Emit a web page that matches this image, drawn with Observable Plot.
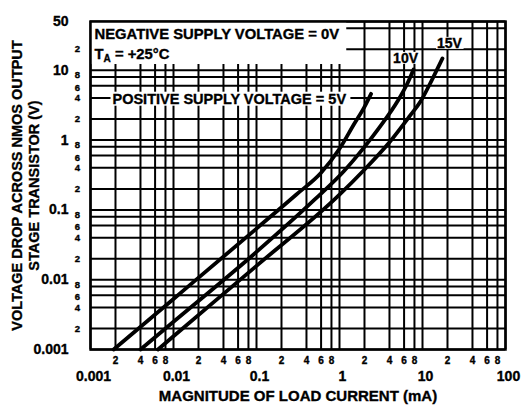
<!DOCTYPE html>
<html><head><meta charset="utf-8">
<script src="https://cdn.jsdelivr.net/npm/d3@7"></script>
<script src="https://cdn.jsdelivr.net/npm/@observablehq/plot@0.6"></script>
<style>html,body{margin:0;padding:0;background:#fff} svg{display:block} svg text{stroke:#000;stroke-width:0.35px}</style>
</head><body><div id="chart"></div>
<script>
// ---- axis ticks / grid ----
const xDecades = [0.001, 0.01, 0.1, 1, 10, 100];
const xMinor = [0.002, 0.004, 0.006, 0.008, 0.02, 0.04, 0.06, 0.08, 0.2, 0.4, 0.6, 0.8, 2, 4, 6, 8, 20, 40, 60, 80];
const yDecades = [0.001, 0.01, 0.1, 1, 10, 50];
const yMinor = [0.002, 0.004, 0.006, 0.008, 0.02, 0.04, 0.06, 0.08, 0.2, 0.4, 0.6, 0.8, 2, 4, 6, 8, 20, 40];
const yMinorLabeled = [0.002, 0.004, 0.006, 0.008, 0.02, 0.04, 0.06, 0.08, 0.2, 0.4, 0.6, 0.8, 2, 4, 6, 8, 20];

// ---- curves: load current (mA) vs voltage drop (V) ----
const curve5_I = [0.0019, 0.01, 0.1, 0.3, 0.6, 1.0, 1.5, 2.0, 2.4];
const curve5_V = [0.001, 0.0053, 0.054, 0.165, 0.34, 0.75, 1.7, 3.0, 4.6];
const curve10_I = [0.004, 0.01, 0.1, 0.5, 1.12, 2.0, 3.0, 5.0, 6.5, 7.8];
const curve10_V = [0.001, 0.0025, 0.025, 0.14, 0.355, 0.8, 1.5, 3.6, 6.3, 10.3];
const curve15_I = [0.0065, 0.01, 0.1, 1.0, 1.9, 4.0, 7.0, 9.5, 13, 17.4];
const curve15_V = [0.001, 0.00155, 0.0158, 0.165, 0.355, 0.93, 2.2, 3.6, 7.3, 14.8];

// ---- texts ----
const noteNeg = "NEGATIVE SUPPLY VOLTAGE = 0V";
const noteTa = "TA = +25°C";
const notePos = "POSITIVE SUPPLY VOLTAGE = 5V";
const notePosLevel = [4];
const label10 = "10V";
const label15 = "15V";
const xTitle = "MAGNITUDE OF LOAD CURRENT (mA)";
const yTitle1 = "VOLTAGE DROP ACROSS NMOS OUTPUT";
const yTitle2 = "STAGE TRANSISTOR (V)";

const toRows = (I, V) => I.map((x, i) => ({I: x, V: V[i]}));
const c5 = toRows(curve5_I, curve5_V);
const c10 = toRows(curve10_I, curve10_V);
const c15 = toRows(curve15_I, curve15_V);
const digit = d => String(+(+d).toPrecision(1)).replace(/[0.]/g, "");
const yMinorWith = k => yMinorLabeled.filter(d => digit(d) === k);
const yMinorText = (k, dy) => Plot.text(yMinorWith(k), {y: d => d, text: digit, frameAnchor: "left", dx: -13, dy, textAnchor: "middle", fontSize: 9.5});

const chart = Plot.plot({
  width: 527, height: 405,
  marginLeft: 90, marginRight: 22, marginTop: 21, marginBottom: 56,
  x: {type: "log", domain: [0.001, 100], axis: null},
  y: {type: "log", domain: [0.001, 50], axis: null},
  style: {fontFamily: "'Liberation Sans', Arial, sans-serif", fontWeight: "bold", color: "black", background: "white", overflow: "visible"},
  marks: [
    Plot.ruleX([...xDecades, ...xMinor], {stroke: "black", strokeWidth: 2}),
    Plot.ruleY([...yDecades, ...yMinor], {stroke: "black", strokeWidth: 2}),
    Plot.frame({stroke: "black", strokeWidth: 2.5}),
    Plot.line(c5, {x: "I", y: "V", stroke: "black", strokeWidth: 3.8, curve: "monotone-x"}),
    Plot.line(c10, {x: "I", y: "V", stroke: "black", strokeWidth: 3.8, curve: "monotone-x"}),
    Plot.line(c15, {x: "I", y: "V", stroke: "black", strokeWidth: 3.8, curve: "monotone-x"}),
    // tick labels
    Plot.text(yDecades, {y: d => d, text: d => String(d), frameAnchor: "left", dx: -22, textAnchor: "end", fontSize: 14}),
    yMinorText("2", 0),
    yMinorText("4", 0),
    yMinorText("6", 2),
    yMinorText("8", -2),
    Plot.text(xMinor.filter(d => d < 100), {x: d => d, text: digit, frameAnchor: "bottom", dy: 7, lineAnchor: "top", fontSize: 10}),
    Plot.text(xDecades, {x: d => d, text: d => String(d), frameAnchor: "bottom", dx: 3, dy: 22, lineAnchor: "top", fontSize: 14}),
    // titles
    Plot.text([xTitle], {text: d => d, frameAnchor: "bottom", dy: 47, fontSize: 15, lineAnchor: "middle"}),
    Plot.text([yTitle1], {text: d => d, frameAnchor: "left", dx: -73, rotate: -90, textAnchor: "middle", fontSize: 14.5}),
    Plot.text([yTitle2], {text: d => d, frameAnchor: "left", dx: -56, rotate: -90, textAnchor: "middle", fontSize: 14.5}),
    // annotations
    Plot.text([noteNeg], {text: d => d, frameAnchor: "top-left", dx: 4, dy: 7, textAnchor: "start", lineAnchor: "top", fontSize: 14.8}),
    Plot.text([noteTa], {text: d => d, frameAnchor: "top-left", dx: 4, dy: 27, textAnchor: "start", lineAnchor: "top", fontSize: 14.8}),
    Plot.text(notePosLevel, {y: d => d, text: () => notePos, frameAnchor: "left", dx: 22, dy: 1, textAnchor: "start", fontSize: 14.5}),
    Plot.text([c10[c10.length - 1]], {x: "I", y: "V", text: () => label10, dx: -8, dy: -11, fontSize: 14}),
    Plot.text([c15[c15.length - 1]], {x: "I", y: "V", text: () => label15, dx: 7, dy: -15, fontSize: 14})
  ]
});

document.getElementById("chart").appendChild(chart);

const allTexts = Array.from(chart.querySelectorAll("text"));
const findText = s => allTexts.find(t => t.textContent === s);

// white backgrounds behind notes
(function () {
  const ns = "http://www.w3.org/2000/svg";
  const root = chart.getBoundingClientRect();
  const box = el => {
    const r = el.getBoundingClientRect();
    return {x0: r.left - root.left, y0: r.top - root.top, x1: r.right - root.left, y1: r.bottom - root.top};
  };
  const rect = (x0, y0, x1, y1, before) => {
    const r = document.createElementNS(ns, "rect");
    r.setAttribute("x", x0); r.setAttribute("y", y0);
    r.setAttribute("width", Math.max(0, x1 - x0)); r.setAttribute("height", Math.max(0, y1 - y0));
    r.setAttribute("fill", "white");
    before.parentNode.insertBefore(r, before);
  };
  const sx = chart.scale("x"), sy = chart.scale("y");
  const fl = sx.apply(0.001), ft = sy.apply(50);
  const frameEl = chart.querySelector('[aria-label="frame"]');
  const tNeg = findText(noteNeg), tTa = findText(noteTa), tPos = findText(notePos);
  const t10 = findText(label10), t15 = findText(label15);
  const gridAnchor = frameEl || tNeg.parentNode;
  if (tNeg && tTa) {
    const n1 = box(tNeg), n2 = box(tTa);
    rect(fl, ft, Math.max(n1.x1, n2.x1) + 7, n2.y1 + 2, gridAnchor);
  }
  if (tPos) { const p = box(tPos); rect(p.x0 - 2, p.y0 + 1, p.x1 + 4, p.y1 - 1, gridAnchor); }
  for (const t of [t10, t15]) {
    if (!t) continue;
    const b = box(t);
    const g = t.parentNode;
    rect(b.x0 - 1, b.y0 + 2, b.x1 + 1, b.y1 - 2, g);
  }
  // subscript A in T_A
  if (tTa) {
    tTa.textContent = "";
    const a = document.createElementNS(ns, "tspan"); a.textContent = "T"; tTa.appendChild(a);
    const b = document.createElementNS(ns, "tspan"); b.textContent = "A"; b.setAttribute("font-size", "10"); b.setAttribute("dy", "3"); tTa.appendChild(b);
    const c = document.createElementNS(ns, "tspan"); c.textContent = " = +25°C"; c.setAttribute("dy", "-3"); tTa.appendChild(c);
  }
})();
</script>
</body></html>
